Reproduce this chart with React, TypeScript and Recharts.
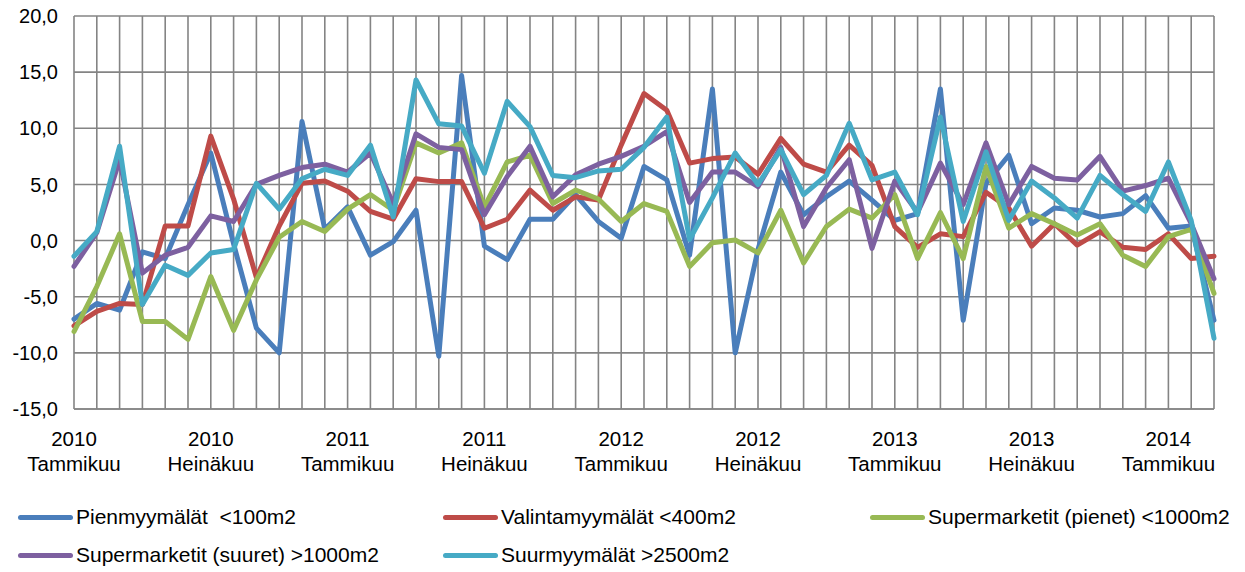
import { CartesianGrid, Line, LineChart, XAxis, YAxis } from 'recharts'

// Monthly change (%), Jan 2010 – Mar 2014
const MONTH_NAMES = [
  'Tammikuu', 'Helmikuu', 'Maaliskuu', 'Huhtikuu', 'Toukokuu', 'Kesäkuu',
  'Heinäkuu', 'Elokuu', 'Syyskuu', 'Lokakuu', 'Marraskuu', 'Joulukuu',
]
const START_YEAR = 2010
const MONTH_COUNT = 51

const Y_TICKS = [-15, -10, -5, 0, 5, 10, 15, 20]

const pienmyymalat = [
  -7.0, -5.6, -6.2, -1.0, -1.6, 3.2, 7.8, -0.3, -7.8, -10.0, 10.6, 1.0, 3.0, -1.3, -0.1, 2.7, -10.3,
  14.7, -0.5, -1.7, 1.9, 1.9, 4.1, 1.7, 0.2, 6.6, 5.4, -1.3, 13.5, -10.0, -0.8, 6.1, 2.3, 3.9,
  5.3, 3.6, 1.8, 2.4, 13.5, -7.1, 5.1, 7.6, 1.5, 2.9, 2.7, 2.1, 2.4, 4.0, 1.1, 1.3, -7.1,
]
const valintamyymalat = [
  -7.6, -6.3, -5.6, -5.7, 1.3, 1.3, 9.3, 3.7, -3.3, 1.3, 5.1, 5.3, 4.4, 2.6, 1.9, 5.5, 5.25,
  5.25, 1.1, 1.9, 4.5, 2.7, 3.9, 3.6, 8.5, 13.1, 11.6, 6.9, 7.3, 7.45, 5.9, 9.1, 6.8, 6.1,
  8.5, 6.7, 1.25, -0.6, 0.6, 0.35, 4.3, 2.9, -0.5, 1.5, -0.4, 0.8, -0.6, -0.8, 0.6, -1.6, -1.4,
]
const supermarketitPienet = [
  -8.1, -4.1, 0.6, -7.2, -7.2, -8.8, -3.2, -8.0, -3.5, 0.3, 1.7, 0.8, 2.8, 4.1, 2.7, 8.7, 7.8,
  8.7, 3.0, 7.0, 7.6, 3.3, 4.5, 3.7, 1.7, 3.3, 2.6, -2.3, -0.2, 0.05, -1.1, 2.7, -2.0, 1.25,
  2.8, 2.0, 4.1, -1.6, 2.5, -1.6, 6.6, 1.1, 2.4, 1.5, 0.5, 1.5, -1.3, -2.3, 0.35, 1.0, -4.7,
]
const supermarketitSuuret = [
  -2.3, 0.7, 7.2, -2.9, -1.3, -0.6, 2.2, 1.7, 5.0, 5.8, 6.5, 6.8, 6.1, 7.8, 3.3, 9.5, 8.3,
  8.1, 2.3, 5.7, 8.4, 3.9, 5.85, 6.8, 7.5, 8.4, 9.7, 3.4, 6.1, 6.1, 4.8, 8.3, 1.25, 4.7,
  7.2, -0.7, 5.3, 2.5, 6.9, 3.2, 8.7, 3.2, 6.6, 5.55, 5.4, 7.5, 4.4, 4.9, 5.55, 1.5, -3.4,
]
const suurmyymalat = [
  -1.4, 0.8, 8.4, -5.7, -2.2, -3.1, -1.1, -0.8, 5.1, 2.8, 5.5, 6.35, 5.8, 8.5, 2.1, 14.3, 10.4,
  10.2, 6.0, 12.4, 10.15, 5.8, 5.6, 6.2, 6.35, 8.3, 11.0, 0.1, 3.8, 7.8, 5.0, 8.1, 4.1, 5.8,
  10.45, 5.4, 6.1, 2.3, 11.0, 1.7, 7.9, 1.8, 5.3, 3.8, 2.0, 5.8, 4.1, 2.6, 7.0, 1.8, -8.7,
]

const SERIES = [
  { key: 'pien', name: 'Pienmyymälät  <100m2', color: '#4A7EBB', values: pienmyymalat },
  { key: 'valinta', name: 'Valintamyymälät <400m2', color: '#BE4B48', values: valintamyymalat },
  { key: 'superP', name: 'Supermarketit (pienet) <1000m2', color: '#98B954', values: supermarketitPienet },
  { key: 'superS', name: 'Supermarketit (suuret) >1000m2', color: '#7D60A0', values: supermarketitSuuret },
  { key: 'suur', name: 'Suurmyymälät >2500m2', color: '#46AAC5', values: suurmyymalat },
]

// legend grid: 3 columns, 2 rows
const LEGEND_COLS = [18, 443, 870]
const LEGEND_ROWS = [517, 555]

const FONT = '"Liberation Sans", Arial, sans-serif'
const GRID = '#848484'

const data = Array.from({ length: MONTH_COUNT }, (_, i) => {
  const row: Record<string, string | number> = {
    period: `${START_YEAR + Math.floor(i / 12)} ${MONTH_NAMES[i % 12]}`,
  }
  for (const s of SERIES) row[s.key] = s.values[i]
  return row
})

function MonthTick(props: any) {
  const { x, y, payload, index } = props
  if (index % 6 !== 0) return <g />
  const [year, month] = String(payload.value).split(' ')
  return (
    <text x={x} y={y} textAnchor="middle" fontSize={20.5} fill="#000" fontFamily={FONT}>
      <tspan x={x} dy={35}>{year}</tspan>
      <tspan x={x} dy={25}>{month}</tspan>
    </text>
  )
}

export default function App() {
  return (
    <div style={{ position: 'absolute', left: 0, top: 0, width: 1245, height: 572, background: '#fff' }}>
      <LineChart width={1245} height={572} data={data} margin={{ top: 16, right: 31, bottom: 93, left: 0 }}>
        <CartesianGrid stroke={GRID} strokeWidth={1.6} />
        <XAxis
          dataKey="period"
          interval={0}
          tick={<MonthTick />}
          tickLine={false}
          tickSize={0}
          height={70}
          axisLine={{ stroke: GRID, strokeWidth: 1.6 }}
        />
        <YAxis
          domain={[-15, 20]}
          ticks={Y_TICKS}
          width={74}
          axisLine={false}
          tickLine={false}
          tickSize={0}
          tickMargin={16}
          tickFormatter={(v: number) => v.toFixed(1).replace('.', ',')}
          tick={{ fontSize: 20, fill: '#000', fontFamily: FONT }}
        />
        {SERIES.map((s) => (
          <Line
            key={s.key}
            dataKey={s.key}
            name={s.name}
            stroke={s.color}
            strokeWidth={5}
            strokeLinejoin="round"
            strokeLinecap="round"
            dot={false}
            activeDot={false}
            isAnimationActive={false}
          />
        ))}
      </LineChart>
      {SERIES.map((s, i) => (
        <div
          key={s.key}
          style={{
            position: 'absolute',
            left: LEGEND_COLS[i % 3],
            top: LEGEND_ROWS[Math.floor(i / 3)] - 12,
            height: 24,
            display: 'flex',
            alignItems: 'center',
            fontFamily: FONT,
            fontSize: 21,
            whiteSpace: 'pre',
          }}
        >
          <span style={{ display: 'inline-block', width: 55, height: 5, borderRadius: 3, background: s.color, marginRight: 3 }} />
          <span>{s.name}</span>
        </div>
      ))}
    </div>
  )
}
